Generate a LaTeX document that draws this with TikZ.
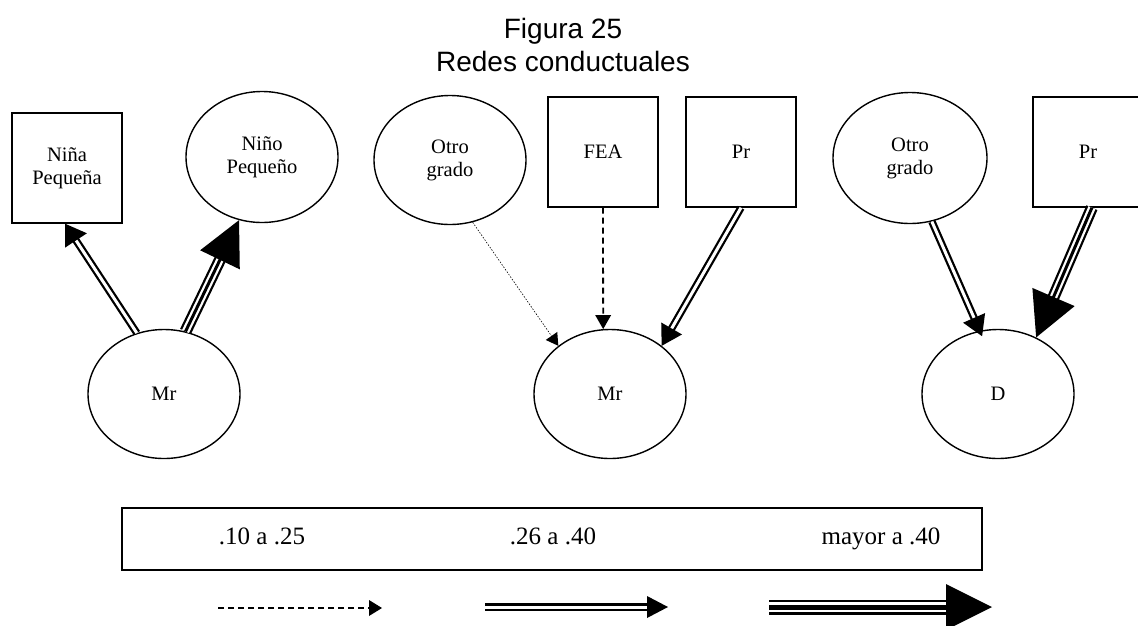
\documentclass[tikz,border=0pt]{standalone}
\usepackage{fontspec}
\setmainfont{Liberation Serif}
\newfontfamily\headfont{Liberation Sans}
\usetikzlibrary{calc,shapes.geometric}

\tikzset{
  nodeline/.style={draw, line width=1.4pt, inner sep=0pt, align=center,
    font=\fontsize{20.5}{23}\selectfont},
  boxnode/.style={nodeline, rectangle, minimum width=110pt, minimum height=110pt},
  ovalnode/.style={nodeline, ellipse, minimum width=152pt, minimum height=129pt},
  dbl/.style={draw=white, line width=3pt, preaction={draw=black, line width=7.5pt}},
  trpl/.style={line width=3pt, preaction={draw=black, line width=12pt},
    preaction={draw=white, line width=7.5pt}},
  bigtrpl/.style={line width=5pt, preaction={draw=black, line width=15pt},
    preaction={draw=white, line width=10pt}},
  dsh/.style={line width=1.8pt, dash pattern=on 6pt off 4pt},
  dott/.style={line width=0.6pt, dash pattern=on 1.5pt off 1.5pt},
  legtext/.style={anchor=base, inner sep=0pt, font=\fontsize{25}{28}\selectfont},
}

% #1 line style, #2 start, #3 tip, #4 head length, #5 head half-width
\newcommand\linkarrow[5]{%
  \coordinate (la) at (#2);
  \coordinate (lb) at (#3);
  \coordinate (lc) at ($(lb)!#4!(la)$);
  \draw[#1] (la) -- ($(lb)!#4*0.9!(la)$);
  \fill (lb) -- ($(lc)!#5!90:(lb)$) -- ($(lc)!#5!-90:(lb)$) -- cycle;
}

\begin{document}
\begin{tikzpicture}[x=1pt, y=-1pt]
\useasboundingbox (0,0) rectangle (1138,625);

% heading
\node[font=\headfont\fontsize{28}{33}\selectfont, align=center] (title) at (563,45)
  {Figura 25\\Redes conductuales};

% first network
\node[boxnode] (Nina) at (67,168) {Niña\\Pequeña};
\node[ovalnode, minimum height=131pt] (Nino) at (262,157) {Niño\\Pequeño};
\node[ovalnode] (MrL) at (164,394) {Mr};

% second network
\node[ovalnode] (OtroM) at (450,160) {Otro\\grado};
\node[boxnode] (FEA) at (603,152) {FEA};
\node[boxnode] (PrM) at (741,152) {Pr};
\node[ovalnode] (MrM) at (610,394) {Mr};

% third network
\node[ovalnode, minimum width=154pt, minimum height=131pt] (OtroR) at (910,158) {Otro\\grado};
\node[boxnode] (PrR) at (1088,152) {Pr};
\node[ovalnode] (D) at (998,394) {D};

% connectors
\linkarrow{dbl}{MrL.114}{Nina.-92}{20pt}{13pt}
\linkarrow{trpl}{MrL.71}{Nino.-110}{44pt}{22pt}
\linkarrow{dott}{OtroM.-70}{MrM.137}{12pt}{7pt}
\linkarrow{dsh}{FEA.south}{MrM.96}{14pt}{8pt}
\linkarrow{dbl}{PrM.south}{MrM.43}{20pt}{12pt}
\linkarrow{dbl}{OtroR.-71}{$(D.104)+(0,6)$}{20pt}{12pt}
\linkarrow{trpl}{PrR.-86}{D.56}{44pt}{23pt}

% legend
\node[draw, line width=1.4pt, minimum width=860pt, minimum height=62pt, inner sep=0pt]
  (legend) at (552,539) {};
\node[legtext] (l1) at (262,544) {.10 a .25};
\node[legtext] (l2) at (553,544) {.26 a .40};
\node[legtext] (l3) at (881,544) {mayor a .40};

\coordinate (a1) at (218,608);
\coordinate (b1) at (382,608);
\coordinate (a2) at (485,607);
\coordinate (b2) at (668,607);
\coordinate (a3) at (769,607);
\coordinate (b3) at (992,607);
\linkarrow{dsh}{a1}{b1}{13pt}{8pt}
\linkarrow{dbl}{a2}{b2}{21pt}{11pt}
\linkarrow{bigtrpl}{a3}{b3}{46pt}{23pt}
\end{tikzpicture}
\end{document}
